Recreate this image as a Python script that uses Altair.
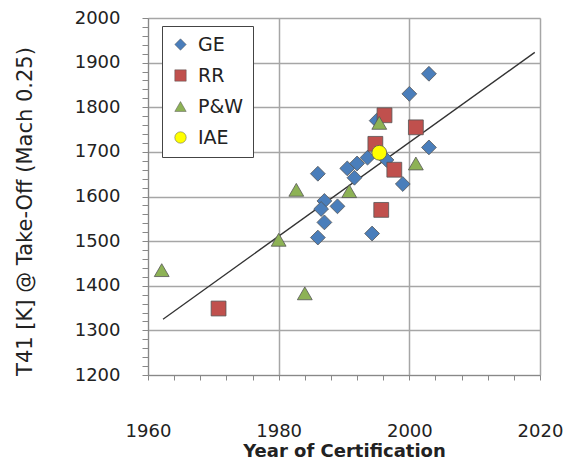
import altair as alt
import pandas as pd

# ---- data ----
ge_year = [2003, 2000, 2003, 1986, 1990.5, 1992, 1993.6, 1991.6, 1996.5, 1995, 1999, 1987, 1986.5, 1989, 1987, 1986, 1994.3]
ge_t41 = [1875, 1830, 1710, 1651, 1663, 1674, 1687, 1642, 1682, 1770, 1628, 1590, 1572, 1578, 1542, 1508, 1517]

rr_year = [1996.2, 2001, 1994.8, 1997.7, 1995.7, 1970.8]
rr_t41 = [1782, 1755, 1718, 1660, 1570, 1349]

pw_year = [1995.4, 2001, 1982.7, 1990.8, 1980, 1962.1, 1984]
pw_t41 = [1765, 1674, 1615, 1612, 1503, 1435, 1383]

iae_year = [1995.4]
iae_t41 = [1698]

trend_year = [1962.3, 2019.2]
trend_t41 = [1325, 1923]

makers = ["GE", "RR", "P&W", "IAE"]
maker_colors = ["#4A7EBB", "#C0504D", "#8DB255", "#FFFF00"]
maker_shapes = ["diamond", "square", "triangle-up", "circle"]

x_ticks = list(range(1960, 2021, 4))
y_ticks = list(range(1200, 2001, 20))

rows = []
for name, ys, ts in [("GE", ge_year, ge_t41), ("RR", rr_year, rr_t41),
                     ("P&W", pw_year, pw_t41), ("IAE", iae_year, iae_t41)]:
    for y, t in zip(ys, ts):
        rows.append({"maker": name, "year": y, "t41": t})
pts = pd.DataFrame(rows)
trend = pd.DataFrame({"year": trend_year, "t41": trend_t41})

FONT = "DejaVu Sans"

x_scale = alt.Scale(domain=[1960, 2020], nice=False, zero=False)
y_scale = alt.Scale(domain=[1200, 2000], nice=False, zero=False)

x_axis = alt.Axis(
    values=x_ticks, format="d", title="Year of Certification",
    labelExpr="datum.value % 20 === 0 ? datum.label : ''",
    labelOverlap=False, labelFlush=False,
    labelFont=FONT, labelFontSize=18, labelColor="#222",
    labelPadding=42, tickSize=5, tickColor="#888", domainColor="#888",
    gridOpacity={"condition": {"test": "datum.value % 20 === 0", "value": 1}, "value": 0},
    gridColor="#A6A6A6", gridWidth=1.5,
    titleFont=FONT, titleFontSize=18, titleFontWeight="bold", titleColor="#222",
    titleY=76, titleBaseline="middle",
)
y_axis = alt.Axis(
    values=y_ticks, format="d", title="T41 [K] @ Take-Off (Mach 0.25)",
    labelExpr="datum.value % 100 === 0 ? datum.label : ''",
    labelOverlap=False, labelFlush=False,
    labelFont=FONT, labelFontSize=18, labelColor="#222",
    labelPadding=22, tickSize=6, tickColor="#888", domainColor="#888",
    gridOpacity={"condition": {"test": "datum.value % 100 === 0", "value": 1}, "value": 0},
    gridColor="#A6A6A6", gridWidth=1.5,
    titleFont=FONT, titleFontSize=21, titleFontWeight="normal", titleColor="#222",
    titleX=-123, titleY=193, titleAngle=270, titleAlign="center", titleBaseline="middle",
)

line = alt.Chart(trend).mark_line(color="#333333", strokeWidth=1.3).encode(
    x=alt.X("year:Q", scale=x_scale, axis=x_axis),
    y=alt.Y("t41:Q", scale=y_scale, axis=y_axis),
)

points = alt.Chart(pts).mark_point(filled=True, size=220, opacity=1, strokeWidth=0.8).encode(
    x=alt.X("year:Q", scale=x_scale, axis=x_axis),
    y=alt.Y("t41:Q", scale=y_scale, axis=y_axis),
    color=alt.Color("maker:N", scale=alt.Scale(domain=makers, range=maker_colors),
                    legend=alt.Legend(
                        title=None, orient="none", legendX=14, legendY=8,
                        labelFont=FONT, labelFontSize=19, labelColor="#222",
                        symbolSize=130, rowPadding=11, padding=9,
                        strokeColor="#444", fillColor="white",
                        symbolStrokeWidth=0.5, labelOffset=8,
                    )),
    shape=alt.Shape("maker:N", scale=alt.Scale(domain=makers, range=maker_shapes)),
    stroke=alt.value("#555555"),
)

chart = alt.layer(line, points).properties(
    width=392, height=357,
    autosize=alt.AutoSizeParams(type="none"),
    padding={"left": 140, "top": 10, "right": 30, "bottom": 90},
).configure_view(stroke="#A6A6A6", strokeWidth=1.5).configure(background="white")

chart.save("out.html", embed_options={"renderer": "svg", "actions": False})
